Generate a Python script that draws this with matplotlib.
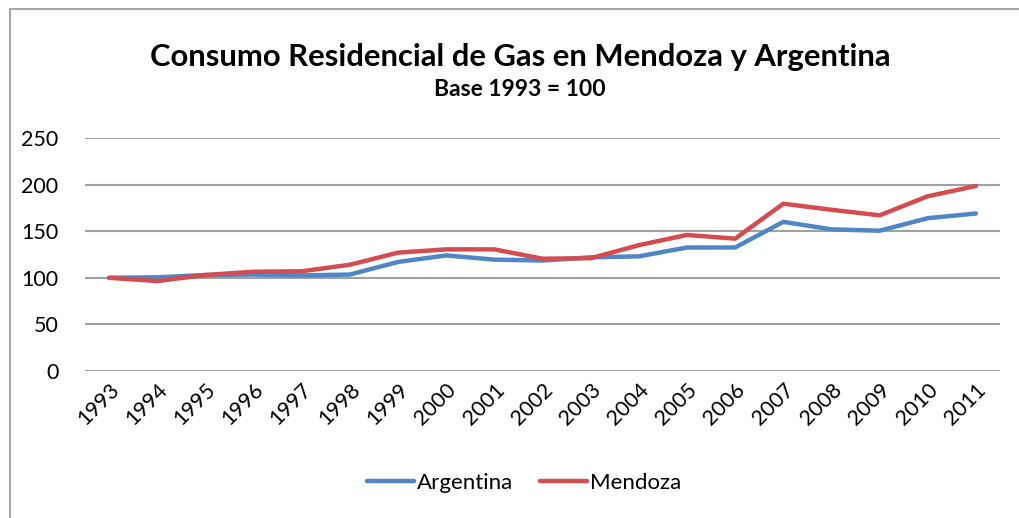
import matplotlib
matplotlib.use("Agg")
import matplotlib.pyplot as plt
from matplotlib.patches import Rectangle

plt.rcParams['font.family'] = ['Lato', 'DejaVu Sans']

years = [str(y) for y in range(1993, 2012)]
argentina = [100, 100.5, 103, 103.5, 102.5, 103.5, 117, 124, 119.5, 118.5,
             122, 123, 132.5, 132.5, 160, 152, 150.5, 164, 169]
mendoza = [100, 96.5, 103, 106.5, 107, 114, 127, 130.5, 130.5, 120.5,
           121, 135, 146, 142, 179.5, 173, 167, 187.5, 198.5]
y_ticks = [0, 50, 100, 150, 200, 250]

W, H = 1019, 518
fig = plt.figure(figsize=(W / 100, H / 100), dpi=100)

# chart frame
fig.patches.append(Rectangle((10 / W, -0.1), 1.2, 1 - 9 / H + 0.1,
                             transform=fig.transFigure, fill=False,
                             edgecolor='#a6a6a6', linewidth=1.5))

ax = fig.add_axes([85 / W, 1 - 371 / H, 915 / W, 233 / H])
x = list(range(len(years)))
ax.plot(x, argentina, color='#4f86c6', linewidth=3.2, label='Argentina',
        solid_capstyle='round', zorder=3)
ax.plot(x, mendoza, color='#d44c50', linewidth=3.2, label='Mendoza',
        solid_capstyle='round', zorder=4)

ax.set_xlim(-0.5, len(years) - 0.5)
ax.set_ylim(0, 250)
ax.set_yticks(y_ticks)
ax.set_xticks(x)
ax.set_xticklabels(years, rotation=45, ha='right', va='top',
                   rotation_mode='anchor', fontsize=15.5)
ax.tick_params(axis='y', labelsize=15.5, length=0, pad=19)
ax.tick_params(axis='x', length=0, pad=6)
ax.grid(axis='y', color='#a0a0a0', linewidth=1.5)
ax.set_axisbelow(True)
for s in ax.spines.values():
    s.set_visible(False)

fig.text(520 / W, 1 - 57 / H, 'Consumo Residencial de Gas en Mendoza y Argentina',
         ha='center', va='center', fontsize=22.3, fontweight='bold')
fig.text(520 / W, 1 - 89 / H, 'Base 1993 = 100',
         ha='center', va='center', fontsize=16.5, fontweight='bold')

fig.legend(loc='center', bbox_to_anchor=(524 / W, 1 - 483 / H), ncol=2,
           frameon=False, fontsize=16, handlelength=2.1, handletextpad=0.15,
           columnspacing=1.2)

fig.savefig('out.png', dpi=100)
